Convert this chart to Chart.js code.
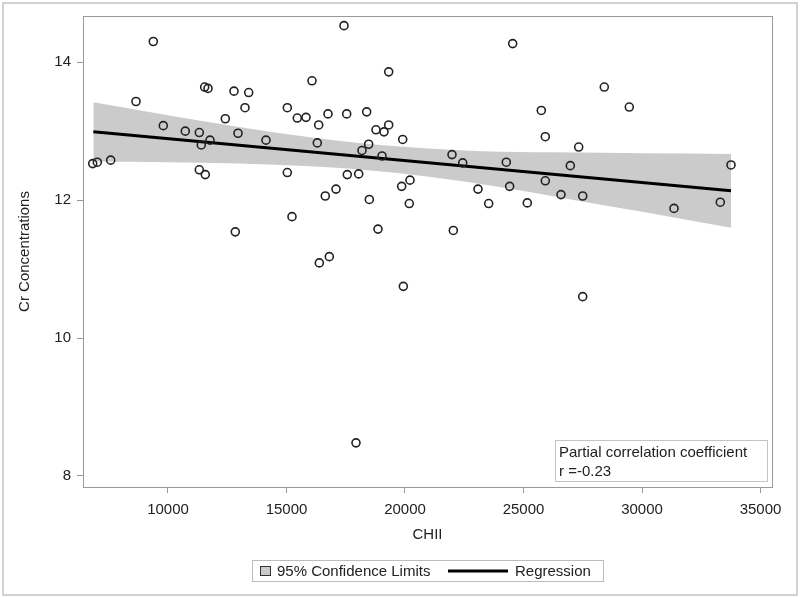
<!DOCTYPE html>
<html>
<head>
<meta charset="utf-8">
<script src="https://cdn.jsdelivr.net/npm/chart.js@4.4.1/dist/chart.umd.min.js"></script>
<style>
  html, body { margin: 0; padding: 0; background: #ffffff; }
  #wrap { width: 800px; height: 598px; }
</style>
</head>
<body>
<div id="wrap"><canvas id="c" width="800" height="598"></canvas></div>
<script>
// ---- data ----
const chiiValues = [6823, 7017, 7582, 8650, 9380, 9802, 10730, 11321, 11405, 11321,
  11574, 11772, 11547, 11688, 12418, 12785, 12954, 12840, 13249, 13405,
  14135, 15034, 15034, 15232, 15456, 15823, 16076, 16359, 16300, 16384,
  16637, 16751, 16807, 17089, 17426, 17540, 17565, 18046, 18186, 18383,
  18467, 18495, 18776, 18861, 19030, 19114, 19312, 19312, 19903, 19860,
  19930, 17932, 24544, 28409, 29464, 25751, 25920, 27329, 21983, 22435,
  24274, 26975, 33755, 20211, 20181, 23080, 23531, 24416, 25160, 25920,
  26582, 27498, 22039, 31350, 33304, 27498];
const crValues = [12.53, 12.55, 12.58, 13.43, 14.30, 13.08, 13.00, 12.98, 12.80, 12.44,
  12.37, 12.87, 13.64, 13.62, 13.18, 13.58, 12.97, 11.54, 13.34, 13.56,
  12.87, 13.34, 12.40, 11.76, 13.19, 13.20, 13.73, 13.09, 12.83, 11.09,
  12.06, 13.25, 11.18, 12.16, 14.53, 13.25, 12.37, 12.38, 12.72, 13.28,
  12.81, 12.01, 13.02, 11.58, 12.64, 12.99, 13.09, 13.86, 12.88, 12.20,
  10.75, 8.48, 14.27, 13.64, 13.35, 13.30, 12.92, 12.77, 12.66, 12.54,
  12.55, 12.50, 12.51, 12.29, 11.95, 12.16, 11.95, 12.20, 11.96, 12.28,
  12.08, 12.06, 11.56, 11.88, 11.97, 10.60];

const regressionX = [6850, 33755];
const regressionY = [12.99, 12.135];

const bandX     = [6850, 10000, 13000, 16000, 18570, 21000, 24000, 27000, 30000, 33755];
const bandUpper = [13.42, 13.23, 13.06, 12.91, 12.81, 12.75, 12.70, 12.69, 12.68, 12.67];
const bandLower = [12.56, 12.55, 12.53, 12.49, 12.43, 12.34, 12.19, 12.01, 11.83, 11.60];

const xTicks = [10000, 15000, 20000, 25000, 30000, 35000];
const yTicks = [8, 10, 12, 14];

const xTitle = 'CHII';
const yTitle = 'Cr Concentrations';
const legendBandLabel = '95% Confidence Limits';
const legendLineLabel = 'Regression';
const noteLines = ['Partial correlation coefficient', 'r =-0.23'];

// ---- chart ----
const FONT = "'Liberation Sans', Arial, sans-serif";
const TEXT = '#222222';
const AXIS = '#9a9a9a';
const BAND = '#cbcbcb';

const pts = chiiValues.map((x, i) => ({ x: x, y: crValues[i] }));
const reg = regressionX.map((x, i) => ({ x: x, y: regressionY[i] }));
const up = bandX.map((x, i) => ({ x: x, y: bandUpper[i] }));
const lo = bandX.map((x, i) => ({ x: x, y: bandLower[i] }));

const decor = {
  id: 'decor',
  beforeDatasetsDraw(chart) {
    const { ctx, chartArea: a } = chart;
    ctx.save();
    ctx.strokeStyle = AXIS;
    ctx.lineWidth = 1;
    ctx.strokeRect(Math.round(a.left) + 0.5, Math.round(a.top) + 0.5,
      Math.round(a.right - a.left), Math.round(a.bottom - a.top));
    ctx.restore();
  },
  afterDraw(chart) {
    const { ctx } = chart;
    ctx.save();
    // outer frame
    ctx.strokeStyle = '#d2d2d2';
    ctx.lineWidth = 2;
    ctx.strokeRect(3, 3, 794, 592);

    // annotation box
    ctx.fillStyle = '#ffffff';
    ctx.fillRect(555.5, 440.5, 212, 41);
    ctx.strokeStyle = '#c4c4c4';
    ctx.lineWidth = 1;
    ctx.strokeRect(555.5, 440.5, 212, 41);
    ctx.fillStyle = TEXT;
    ctx.font = '15px ' + FONT;
    ctx.textBaseline = 'alphabetic';
    ctx.textAlign = 'left';
    ctx.fillText(noteLines[0], 559, 457);
    ctx.fillText(noteLines[1], 559, 476);

    // legend
    ctx.fillStyle = '#ffffff';
    ctx.fillRect(252.5, 560.5, 351, 21);
    ctx.strokeStyle = '#bdbdbd';
    ctx.strokeRect(252.5, 560.5, 351, 21);
    ctx.fillStyle = BAND;
    ctx.fillRect(260.5, 566.5, 10, 9);
    ctx.strokeStyle = '#333333';
    ctx.strokeRect(260.5, 566.5, 10, 9);
    ctx.fillStyle = TEXT;
    ctx.textBaseline = 'middle';
    ctx.fillText(legendBandLabel, 277, 571.5);
    ctx.strokeStyle = '#000000';
    ctx.lineWidth = 3;
    ctx.beginPath();
    ctx.moveTo(448, 571);
    ctx.lineTo(508, 571);
    ctx.stroke();
    ctx.fillText(legendLineLabel, 515, 571.5);
    ctx.restore();
  }
};

new Chart(document.getElementById('c'), {
  type: 'scatter',
  data: {
    datasets: [
      {
        label: 'Observed',
        data: pts,
        showLine: false,
        pointRadius: 4,
        pointHoverRadius: 4,
        pointBorderWidth: 1.6,
        pointBorderColor: '#222222',
        pointBackgroundColor: 'rgba(255,255,255,0)'
      },
      {
        label: legendLineLabel,
        data: reg,
        showLine: true,
        borderColor: '#000000',
        borderWidth: 3,
        pointRadius: 0,
        fill: false
      },
      {
        label: 'Upper',
        data: up,
        showLine: true,
        borderWidth: 0,
        borderColor: 'rgba(0,0,0,0)',
        pointRadius: 0,
        cubicInterpolationMode: 'monotone',
        backgroundColor: BAND,
        fill: '+1'
      },
      {
        label: 'Lower',
        data: lo,
        showLine: true,
        borderWidth: 0,
        borderColor: 'rgba(0,0,0,0)',
        pointRadius: 0,
        cubicInterpolationMode: 'monotone',
        fill: false
      }
    ]
  },
  options: {
    responsive: false,
    animation: false,
    devicePixelRatio: 1,
    layout: { padding: { left: 0, right: 28, top: 16, bottom: 0 } },
    plugins: {
      legend: { display: false },
      tooltip: { enabled: false }
    },
    scales: {
      x: {
        type: 'linear',
        min: 6414,
        max: 35485,
        afterFit(s) { s.height = 111; },
        afterBuildTicks(s) { s.ticks = xTicks.map(v => ({ value: v })); },
        border: { display: false },
        grid: { drawOnChartArea: false, drawTicks: true, tickLength: 6, color: AXIS },
        ticks: {
          padding: 8,
          color: TEXT,
          font: { family: FONT, size: 15 },
          maxRotation: 0,
          callback: v => String(v)
        },
        title: {
          display: true,
          text: xTitle,
          color: TEXT,
          font: { family: FONT, size: 15 },
          padding: { top: 0, bottom: 54 }
        }
      },
      y: {
        type: 'linear',
        min: 7.84,
        max: 14.67,
        afterFit(s) { s.width = 83; },
        afterBuildTicks(s) { s.ticks = yTicks.map(v => ({ value: v })); },
        border: { display: false },
        grid: { drawOnChartArea: false, drawTicks: true, tickLength: 6, color: AXIS },
        ticks: {
          padding: 6,
          color: TEXT,
          font: { family: FONT, size: 15 },
          callback: v => String(v)
        },
        title: {
          display: true,
          text: yTitle,
          color: TEXT,
          font: { family: FONT, size: 15 },
          padding: { top: 16, bottom: 0 }
        }
      }
    }
  },
  plugins: [decor]
});
</script>
</body>
</html>
